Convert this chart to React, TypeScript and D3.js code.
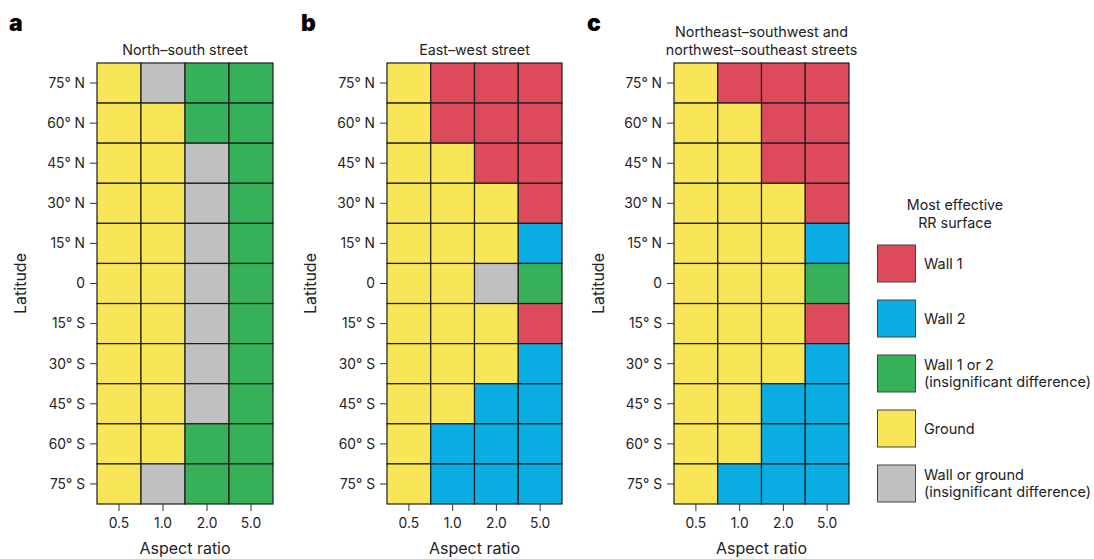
import React from "react";
import * as d3 from "d3";

const latitudes = ["75° N", "60° N", "45° N", "30° N", "15° N", "0", "15° S", "30° S", "45° S", "60° S", "75° S"];
const aspectRatios = ["0.5", "1.0", "2.0", "5.0"];

// R = Wall 1, B = Wall 2, G = Wall 1 or 2, Y = Ground, N = Wall or ground
const panelA = [
  "YNGG", "YYGG", "YYNG", "YYNG", "YYNG", "YYNG", "YYNG", "YYNG", "YYNG", "YYGG", "YNGG",
];
const panelB = [
  "YRRR", "YRRR", "YYRR", "YYYR", "YYYB", "YYNG", "YYYR", "YYYB", "YYBB", "YBBB", "YBBB",
];
const panelC = [
  "YRRR", "YYRR", "YYRR", "YYYR", "YYYB", "YYYG", "YYYR", "YYYB", "YYBB", "YYBB", "YBBB",
];

const categoryKeys = ["R", "B", "G", "Y", "N"];
const categoryColors = ["#DC4A5B", "#0AAEE2", "#36B159", "#F8E658", "#C0C0C0"];
const legendLines = [
  ["Wall 1"],
  ["Wall 2"],
  ["Wall 1 or 2", "(insignificant difference)"],
  ["Ground"],
  ["Wall or ground", "(insignificant difference)"],
];

const FONT = "Inter, 'Noto Sans', sans-serif";
const color = d3.scaleOrdinal<string, string>().domain(categoryKeys).range(categoryColors);

type PanelProps = {
  letter: string;
  title: string[];
  data: string[];
  x0: number;
  x1: number;
  letterX: number;
  latX: number;
};

const Y0 = 63;
const Y1 = 504;

function Panel({ letter, title, data, x0, x1, letterX, latX }: PanelProps) {
  const x = d3.scaleBand<string>().domain(aspectRatios).range([x0, x1]);
  const y = d3.scaleBand<string>().domain(latitudes).range([Y0, Y1]);
  const cx = (x0 + x1) / 2;
  return (
    <g>
      <text x={letterX} y={31} fontFamily={FONT} fontWeight={900} fontSize={23} fill="#000">
        {letter}
      </text>
      {title.map((t, i) => (
        <text key={i} x={cx} y={55 - (title.length - 1 - i) * 18} textAnchor="middle" fontFamily={FONT} fontSize={14.3} fill="#222">
          {t}
        </text>
      ))}
      {data.map((row, ri) =>
        row.split("").map((k, ci) => (
          <rect
            key={`${ri}-${ci}`}
            x={x(aspectRatios[ci])!}
            y={y(latitudes[ri])!}
            width={x.bandwidth()}
            height={y.bandwidth()}
            fill={color(k)}
            stroke="#1d1d1d"
            strokeWidth={1.2}
          />
        ))
      )}
      {latitudes.map((l) => {
        const yy = y(l)! + y.bandwidth() / 2;
        return (
          <g key={l}>
            <line x1={x0 - 7} x2={x0} y1={yy} y2={yy} stroke="#333" strokeWidth={1} />
            <text x={x0 - 12} y={yy} dy="0.35em" textAnchor="end" fontFamily={FONT} fontSize={13.8} fill="#222">
              {l}
            </text>
          </g>
        );
      })}
      {aspectRatios.map((a) => {
        const xx = x(a)! + x.bandwidth() / 2;
        return (
          <g key={a}>
            <line x1={xx} x2={xx} y1={Y1} y2={Y1 + 7} stroke="#333" strokeWidth={1} />
            <text x={xx} y={528} textAnchor="middle" fontFamily={FONT} fontSize={13.8} fill="#222">
              {a}
            </text>
          </g>
        );
      })}
      <text x={cx} y={554} textAnchor="middle" fontFamily={FONT} fontSize={16} fill="#222">
        Aspect ratio
      </text>
      <text
        transform={`translate(${latX},${(Y0 + Y1) / 2}) rotate(-90)`}
        textAnchor="middle"
        fontFamily={FONT}
        fontSize={16}
        fill="#222"
      >
        Latitude
      </text>
    </g>
  );
}

export default function App() {
  const legendY = d3.scaleBand<string>().domain(categoryKeys).range([245, 520]).paddingInner(0);
  return (
    <svg width={1094} height={559} style={{ position: "absolute", left: 0, top: 0 }}>
      <rect width={1094} height={559} fill="#fff" />
      <Panel letter="a" title={["North–south street"]} data={panelA} x0={97} x1={273} letterX={9} latX={26} />
      <Panel letter="b" title={["East–west street"]} data={panelB} x0={387} x1={562} letterX={301} latX={316} />
      <Panel
        letter="c"
        title={["Northeast–southwest and", "northwest–southeast streets"]}
        data={panelC}
        x0={674}
        x1={849}
        letterX={587}
        latX={604}
      />
      <text x={955} y={210} textAnchor="middle" fontFamily={FONT} fontSize={14.3} fill="#222">
        Most effective
      </text>
      <text x={955} y={228} textAnchor="middle" fontFamily={FONT} fontSize={14.3} fill="#222">
        RR surface
      </text>
      {categoryKeys.map((k, i) => {
        const yy = legendY(k)!;
        const lines = legendLines[i];
        const mid = yy + 18.5;
        return (
          <g key={k}>
            <rect x={877.5} y={yy} width={38} height={37} fill={color(k)} stroke="#444" strokeWidth={1} />
            {lines.map((t, j) => (
              <text
                key={j}
                x={924}
                y={mid + (j - (lines.length - 1) / 2) * 17}
                dy="0.35em"
                fontFamily={FONT}
                fontSize={14.5}
                fill="#222"
              >
                {t}
              </text>
            ))}
          </g>
        );
      })}
    </svg>
  );
}
